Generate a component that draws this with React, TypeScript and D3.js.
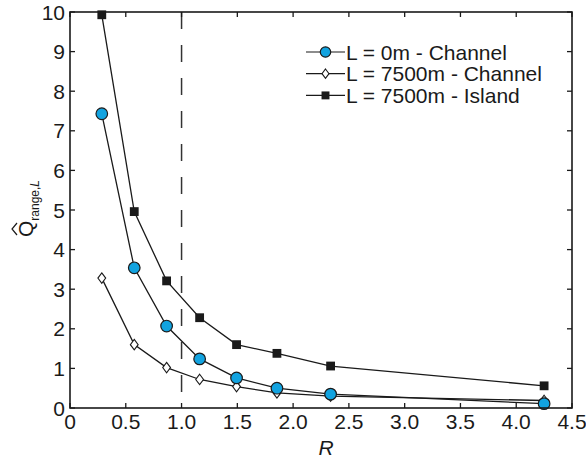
import React from "react";
import * as d3 from "d3";

// Ratio R at which each configuration was evaluated
const rValues = [0.285, 0.576, 0.866, 1.162, 1.493, 1.855, 2.336, 4.25];

// Normalised range discharge for each configuration
const channel0 = [7.43, 3.54, 2.07, 1.24, 0.76, 0.5, 0.35, 0.11];
const channel7500 = [3.28, 1.6, 1.02, 0.72, 0.54, 0.38, 0.3, 0.19];
const island7500 = [9.93, 4.96, 3.21, 2.28, 1.6, 1.38, 1.06, 0.56];

const xTicks = [0, 0.5, 1, 1.5, 2, 2.5, 3, 3.5, 4, 4.5];
const yTicks = [0, 1, 2, 3, 4, 5, 6, 7, 8, 9, 10];

const legendLabels = ["L = 0m - Channel", "L = 7500m - Channel", "L = 7500m - Island"];

const W = 586;
const H = 463;
const left = 70;
const right = 572;
const top = 12;
const bottom = 408;
const FONT = "'Liberation Sans', Arial, Helvetica, sans-serif";
const INK = "#1a1a1a";
const BLUE = "#12a3e0";

type Kind = "circle" | "diamond" | "square";

function Marker({ kind, x, y, scale = 1 }: { kind: Kind; x: number; y: number; scale?: number }) {
  if (kind === "circle") {
    return <circle cx={x} cy={y} r={5.8 * scale} fill={BLUE} stroke={INK} strokeWidth={1.2} />;
  }
  if (kind === "square") {
    const s = 8.8 * scale;
    return <rect x={x - s / 2} y={y - s / 2} width={s} height={s} fill={INK} />;
  }
  const w = 3.9 * scale;
  const h = 5.2 * scale;
  return (
    <path
      d={`M${x},${y - h}L${x + w},${y}L${x},${y + h}L${x - w},${y}Z`}
      fill="#fff"
      stroke={INK}
      strokeWidth={1.1}
    />
  );
}

export default function App() {
  const x = d3.scaleLinear().domain([0, 4.5]).range([left, right]);
  const y = d3.scaleLinear().domain([0, 10]).range([bottom, top]);

  const series: { values: number[]; kind: Kind }[] = [
    { values: channel7500, kind: "diamond" },
    { values: island7500, kind: "square" },
    { values: channel0, kind: "circle" },
  ];

  const line = d3
    .line<[number, number]>()
    .x((d) => x(d[0]))
    .y((d) => y(d[1]));

  const tickLen = 5;
  const fmtX = (v: number) => (v === 0 ? "0" : d3.format(".1f")(v));

  const legendKinds: Kind[] = ["circle", "diamond", "square"];
  const legendX0 = 306;
  const legendX1 = 345;
  const legendBase = 59.5;
  const legendStep = 21.7;

  return (
    <svg
      width={W}
      height={H}
      viewBox={`0 0 ${W} ${H}`}
      style={{ position: "absolute", left: 0, top: 0, background: "#fff" }}
      fontFamily={FONT}
    >
      <rect width={W} height={H} fill="#fff" />

      {/* dashed reference at R = 1 */}
      <line
        x1={x(1)}
        x2={x(1)}
        y1={top}
        y2={bottom}
        stroke="#333"
        strokeWidth={1.5}
        strokeDasharray="17 16"
      />

      {/* series lines */}
      {series.map((s, i) => (
        <path
          key={`l${i}`}
          d={line(rValues.map((r, j) => [r, s.values[j]] as [number, number])) ?? ""}
          fill="none"
          stroke={INK}
          strokeWidth={1.3}
        />
      ))}

      {/* series markers */}
      {series.map((s, i) => (
        <g key={`m${i}`}>
          {rValues.map((r, j) => (
            <Marker key={j} kind={s.kind} x={x(r)} y={y(s.values[j])} />
          ))}
        </g>
      ))}

      {/* frame */}
      <rect
        x={left}
        y={top}
        width={right - left}
        height={bottom - top}
        fill="none"
        stroke={INK}
        strokeWidth={1.6}
      />

      {/* x ticks (inward, top and bottom) */}
      {xTicks.map((t) => (
        <g key={`xt${t}`}>
          <line x1={x(t)} x2={x(t)} y1={bottom} y2={bottom - tickLen} stroke={INK} strokeWidth={1.3} />
          <line x1={x(t)} x2={x(t)} y1={top} y2={top + tickLen} stroke={INK} strokeWidth={1.3} />
          <text x={x(t)} y={428.5} textAnchor="middle" fontSize={21} fill={INK}>
            {fmtX(t)}
          </text>
        </g>
      ))}

      {/* y ticks (inward, left and right) */}
      {yTicks.map((t) => (
        <g key={`yt${t}`}>
          <line x1={left} x2={left + tickLen} y1={y(t)} y2={y(t)} stroke={INK} strokeWidth={1.3} />
          <line x1={right} x2={right - tickLen} y1={y(t)} y2={y(t)} stroke={INK} strokeWidth={1.3} />
          <text x={65} y={y(t) + 7.5} textAnchor="end" fontSize={21} fill={INK}>
            {t}
          </text>
        </g>
      ))}

      {/* axis titles */}
      <text x={326} y={455} textAnchor="middle" fontSize={21} fontStyle="italic" fill={INK}>
        R
      </text>
      <g transform="translate(33,237) rotate(-90)">
        <text x={0} y={0} fontSize={21} fill={INK}>
          <tspan>Q</tspan>
          <tspan fontSize={12} dy={6}>range,</tspan>
          <tspan fontSize={12} fontStyle="italic">L</tspan>
        </text>
        <path d="M2,-16L8,-21L14,-16" fill="none" stroke={INK} strokeWidth={1.2} />
      </g>

      {/* legend */}
      {legendLabels.map((label, i) => {
        const base = legendBase + i * legendStep;
        const cy = base - 7.5;
        return (
          <g key={`lg${i}`}>
            <line x1={legendX0} x2={legendX1} y1={cy} y2={cy} stroke={INK} strokeWidth={1.2} />
            <Marker kind={legendKinds[i]} x={(legendX0 + legendX1) / 2} y={cy} scale={0.9} />
            <text x={346} y={base} fontSize={21} fill={INK}>
              {label}
            </text>
          </g>
        );
      })}
    </svg>
  );
}
